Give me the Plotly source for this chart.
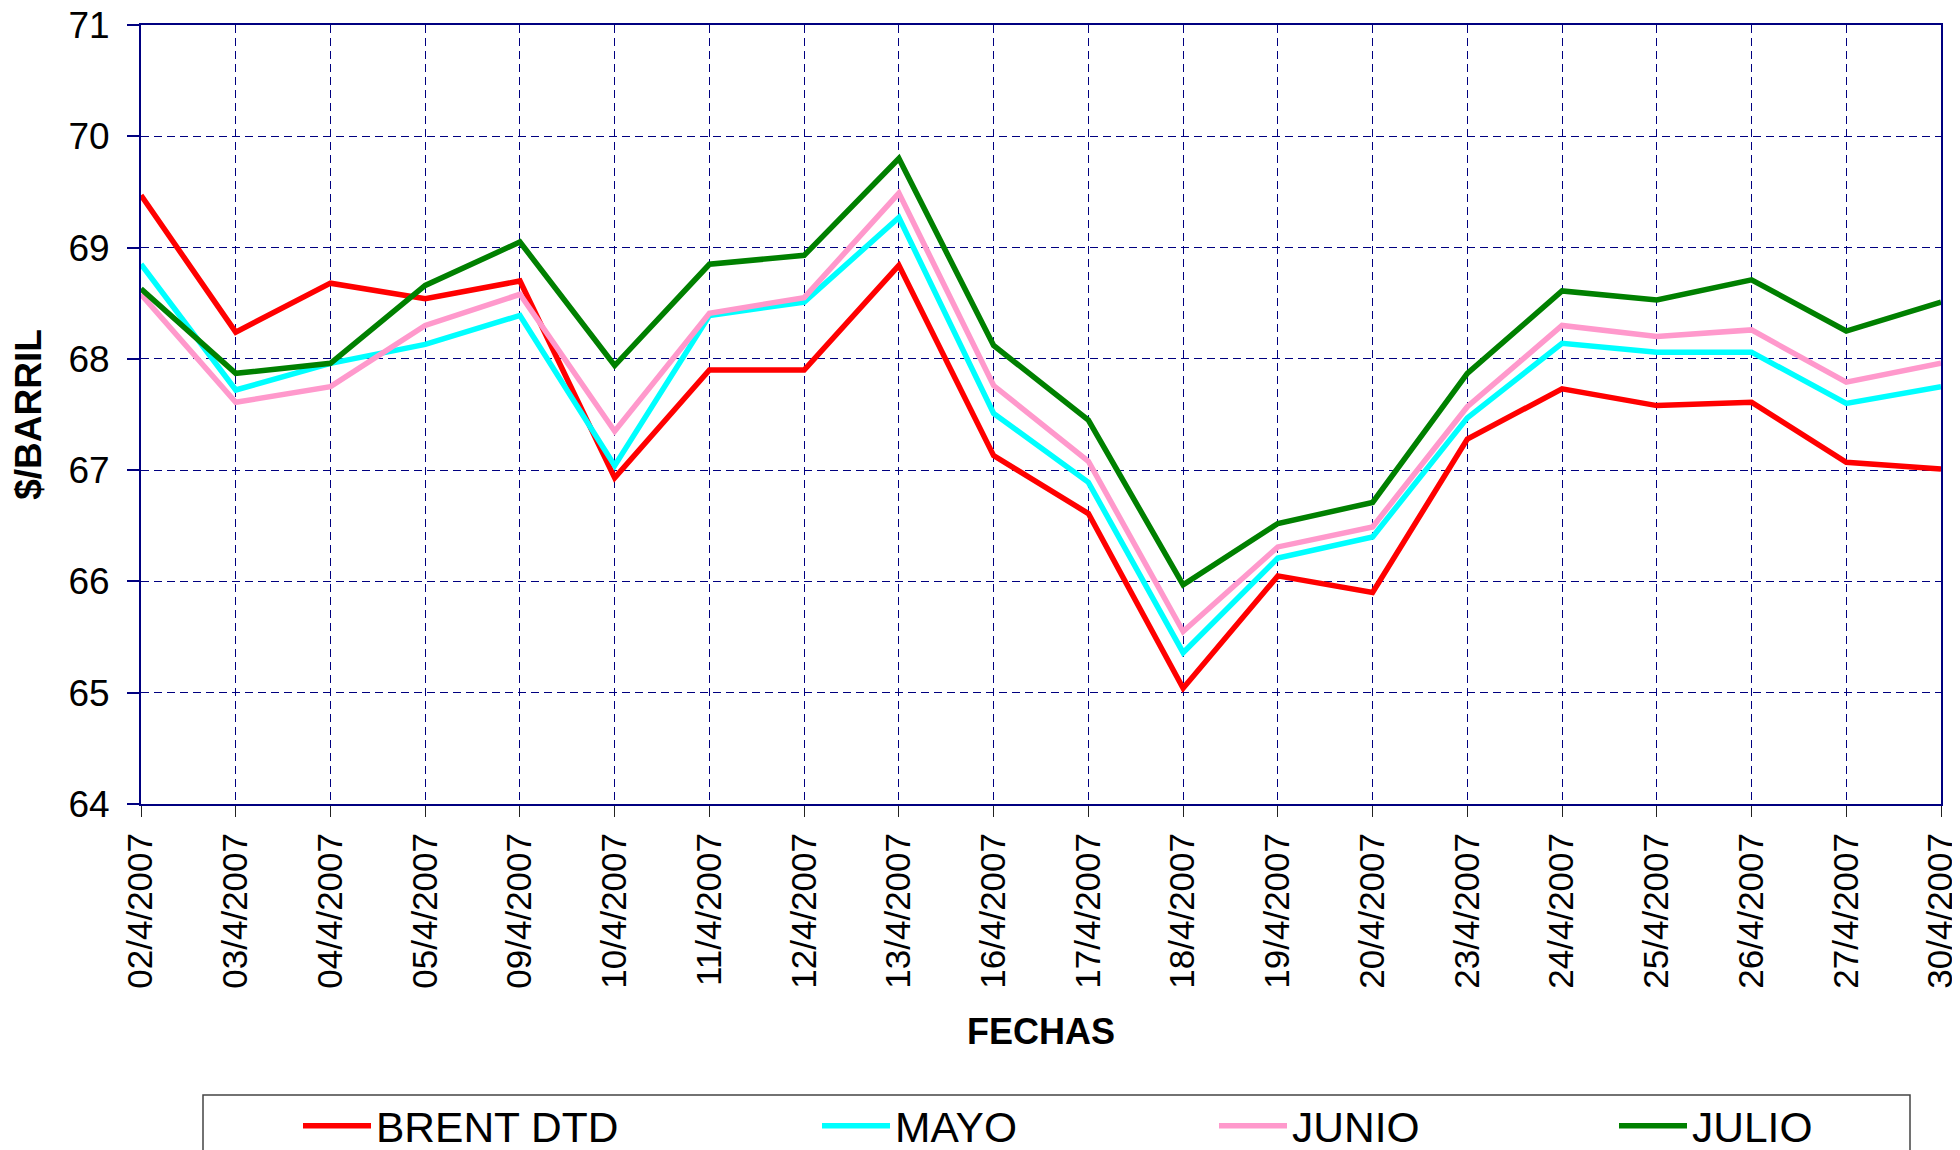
import plotly.graph_objects as go

# April 2007 daily prices, $/barrel
fechas = ["02/4/2007", "03/4/2007", "04/4/2007", "05/4/2007", "09/4/2007",
          "10/4/2007", "11/4/2007", "12/4/2007", "13/4/2007", "16/4/2007",
          "17/4/2007", "18/4/2007", "19/4/2007", "20/4/2007", "23/4/2007",
          "24/4/2007", "25/4/2007", "26/4/2007", "27/4/2007", "30/4/2007"]

brent_dtd = [69.47, 68.24, 68.68, 68.54, 68.70, 66.93, 67.90, 67.90, 68.84, 67.13,
             66.61, 65.04, 66.05, 65.90, 67.28, 67.73, 67.58, 67.61, 67.07, 67.01]
mayo = [68.85, 67.72, 67.96, 68.13, 68.39, 67.04, 68.39, 68.51, 69.27, 67.51,
        66.89, 65.36, 66.21, 66.40, 67.47, 68.14, 68.06, 68.06, 67.60, 67.75]
junio = [68.58, 67.61, 67.75, 68.30, 68.58, 67.35, 68.41, 68.55, 69.49, 67.76,
         67.08, 65.55, 66.31, 66.49, 67.57, 68.30, 68.20, 68.26, 67.79, 67.96]
julio = [68.63, 67.87, 67.96, 68.66, 69.05, 67.94, 68.85, 68.93, 69.80, 68.12,
         67.45, 65.97, 66.52, 66.71, 67.87, 68.61, 68.53, 68.71, 68.25, 68.51]

series = [
    ("BRENT DTD", brent_dtd, "#FF0000"),
    ("MAYO", mayo, "#00FFFF"),
    ("JUNIO", junio, "#FF99CC"),
    ("JULIO", julio, "#008000"),
]

FONT = "Liberation Sans, Arial, sans-serif"
NAVY = "#000080"

# the page body has an 8px margin, so the figure is 8px smaller each way
OFF = 8
FIG_W, FIG_H = 1960 - OFF, 1150 - OFF
# plot area in page pixels: x 141..1941, y 25..804
L, T = 141 - OFF, 25 - OFF
R, B = FIG_W - (1941 - OFF), FIG_H - (804 - OFF)
W = FIG_W - L - R
H = FIG_H - T - B


def px_x(px):
    return (px - OFF - L) / W


def px_y(py):
    return (FIG_H - B - (py - OFF)) / H


fig = go.Figure()

legend_starts = [303, 822, 1219, 1619]
for i, (name, vals, color) in enumerate(series):
    lg = "legend" if i == 0 else f"legend{i + 1}"
    fig.add_trace(go.Scatter(
        x=fechas, y=vals, name=name, mode="lines",
        line=dict(color=color, width=5.5),
        legend=lg,
    ))

layout_legends = {}
for i, start in enumerate(legend_starts):
    key = "legend" if i == 0 else f"legend{i + 1}"
    layout_legends[key] = dict(
        x=px_x(start - 5), xanchor="left",
        y=px_y(1126), yanchor="middle",
        orientation="h", itemwidth=68,
        font=dict(family=FONT, size=42.5, color="black"),
        bgcolor="rgba(0,0,0,0)", borderwidth=0,
    )

fig.update_layout(
    width=FIG_W, height=FIG_H,
    margin=dict(l=L, r=R, t=T, b=B, autoexpand=False),
    paper_bgcolor="white", plot_bgcolor="white",
    showlegend=True,
    **layout_legends,
)

fig.update_xaxes(
    type="category", range=[0, len(fechas) - 1],
    showline=True, linecolor=NAVY, linewidth=2, mirror=True,
    showgrid=True, gridcolor=NAVY, gridwidth=1, griddash="8px,5px",
    ticks="outside", ticklen=11, tickcolor="#222222", tickwidth=1,
    tickangle=-90, ticklabelstandoff=2, ticklabeloverflow="allow",
    tickfont=dict(family=FONT, size=35, color="black"),
    title=dict(text="FECHAS", standoff=31,
               font=dict(family=FONT, size=36, color="black", weight="bold")),
    automargin=False, zeroline=False,
)

fig.update_yaxes(
    range=[64, 71], dtick=1,
    showline=True, linecolor=NAVY, linewidth=2, mirror=True,
    showgrid=True, gridcolor=NAVY, gridwidth=1, griddash="8px,5px",
    ticks="outside", ticklen=12, tickcolor=NAVY, tickwidth=2,
    ticklabelstandoff=10, ticklabeloverflow="allow",
    tickfont=dict(family=FONT, size=37, color="black"),
    title=dict(text="$/BARRIL", standoff=21,
               font=dict(family=FONT, size=37, color="black", weight="bold")),
    automargin=False, zeroline=False,
)

# legend frame (runs past the bottom edge as in the original)
fig.add_shape(
    type="rect", xref="paper", yref="paper",
    x0=px_x(203), x1=px_x(1910), y0=px_y(1095), y1=px_y(1180),
    line=dict(color="#444444", width=1.5), fillcolor="rgba(0,0,0,0)",
)

fig.write_html("out.html")
